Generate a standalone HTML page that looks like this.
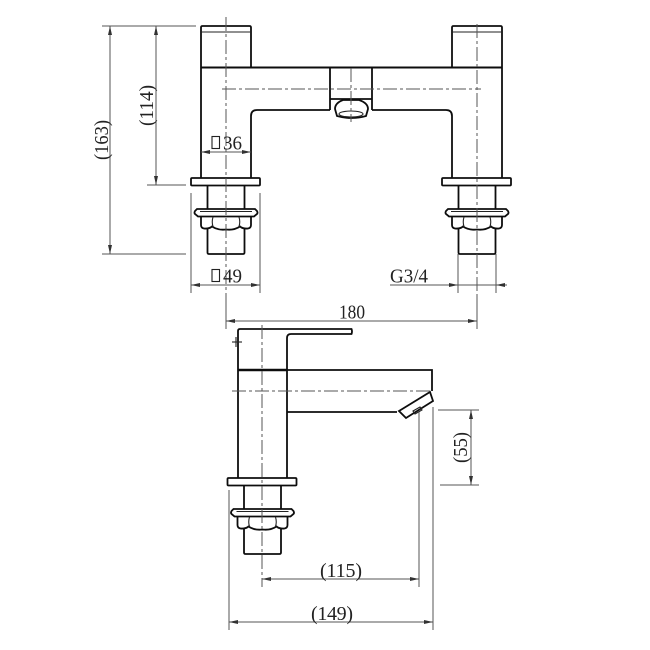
<!DOCTYPE html>
<html><head><meta charset="utf-8"><style>
html,body{margin:0;padding:0;background:#fff}
svg{display:block}
text{font-family:"Liberation Serif",serif;font-size:20px;fill:#222}
.o{fill:none;stroke:#111;stroke-width:1.8}
.t{fill:none;stroke:#222;stroke-width:1.1}
.d{fill:none;stroke:#555;stroke-width:1}
.c{fill:none;stroke:#555;stroke-width:1;stroke-dasharray:14 3 3 3}
.a{fill:#333;stroke:none}
</style></head><body>
<svg width="650" height="650" viewBox="0 0 650 650" xmlns="http://www.w3.org/2000/svg">
<defs>
<filter id="soft" x="0" y="0" width="100%" height="100%" filterUnits="userSpaceOnUse" primitiveUnits="userSpaceOnUse"><feGaussianBlur stdDeviation="0.35"/></filter>
<g id="base">
<rect class="o" x="-35" y="0" width="69" height="7.500" rx="1"/>
<path class="o" d="M-18.500 7.500V31M18.500 7.500V31"/>
<path class="o" d="M-29 31H29L31 33Q32 35 31 36L28 38.500H-28L-31 36Q-32 35-31 33Z"/>
<path class="t" d="M-26 33.500H26"/>
<path class="o" d="M-25 39V47Q-25 50-22 50.500Q-17 51-14 48.500Q-8 52.500 0 51.500Q8 52.500 14 48.500Q17 51 22 50.500Q25 50 25 47V39"/>
<path class="t" d="M-13 39Q-14.500 44-13 48.500M13 39Q14.500 44 13 48.500"/>
<path class="o" d="M-18.500 51V74.500Q-18.500 76-17 76H17Q18.500 76 18.500 74.500V51"/>
</g>
</defs>
<g filter="url(#soft)">
<!-- top view outlines -->
<g class="o">
<path d="M201 67.500V27.500Q201 26 202.500 26H249.500Q251 26 251 27.500V67.500"/>
<path d="M201 67.500H502" stroke-width="2"/>
<path d="M201 67.500V178M251 178V116Q251 110 257 110H330M372 110H446Q452 110 452 116V178"/>
<path d="M452 67.500V27.500Q452 26 453.500 26H500.500Q502 26 502 27.500V67.500M502 67.500V178"/>
<path d="M330 67.500V110M372 67.500V110M330 99H372"/>
<path d="M335 109Q335 103 343 100H359Q368 103 368 109L366 116Q352 120 337 116Z"/>
</g>
<path class="t" d="M201 32H251M452 32H502"/>
<ellipse class="t" cx="351" cy="114" rx="12" ry="3"/>
<use href="#base" x="226" y="178"/>
<use href="#base" x="477" y="178"/>
<!-- centre lines -->
<path class="c" d="M226 17V300M477 24V300M351 68V122M222 89H481"/>
<!-- top dims -->
<path class="d" d="M102 26H196M102 254H186M147 185H186M110 26V254M156 26V185"/>
<path class="d" d="M191 193V293M260 193V293M201 152H251M191 285H260"/>
<path class="d" d="M458 254V293M496 254V293M390 285H507"/>
<path class="a" d="M110 26l-2 9h4zM110 254l-2-9h4zM156 26l-2 9h4zM156 185l-2-9h4zM201 152l9-2v4zM251 152l-9-2v4zM191 285l9-2v4zM260 285l-9-2v4zM458 285l-9-2v4zM496 285l9-2v4z"/>
<rect class="t" x="212" y="136.500" width="7.500" height="12"/>
<text x="223" y="149.500" textLength="19" lengthAdjust="spacingAndGlyphs">36</text>
<rect class="t" x="212" y="269.500" width="7.500" height="12"/>
<text x="223" y="282.500" textLength="19" lengthAdjust="spacingAndGlyphs">49</text>
<text x="390" y="282.500" textLength="38" lengthAdjust="spacingAndGlyphs">G3/4</text>
<text transform="translate(108,160) rotate(-90)" textLength="40" lengthAdjust="spacingAndGlyphs">(163)</text>
<text transform="translate(153,126) rotate(-90)" textLength="41" lengthAdjust="spacingAndGlyphs">(114)</text>
<!-- side view -->
<g class="o">
<path d="M238 370V331Q238 329 240 329H351.500Q352.500 331.500 351.500 334H291Q287 334 287 338V370"/>
<path d="M238 370H287" stroke-width="2.600"/>
<path d="M238 370V478M287 370V478"/>
<path d="M287 370H432V391M287 412H397"/>
<path d="M399 411L430 392L433 401L406 418Z"/>
</g>
<path class="t" d="M413 411l7-4 2 3-7 4zM236 337v10"/>
<use href="#base" x="262.500" y="478"/>
<path class="c" d="M262 325V587M232 391H432"/>
<path class="t" d="M232 342H242"/>
<!-- side dims -->
<path class="d" d="M226 295V329M477 295V329M226 321H477"/>
<path class="d" d="M262 579H419M419 412V587M229 490V630M433 407V630M229 622H433"/>
<path class="d" d="M438 410H479M440 485H479M471 410V485"/>
<path class="a" d="M226 321l9-2v4zM477 321l-9-2v4zM262 579l9-2v4zM419 579l-9-2v4zM229 622l9-2v4zM433 622l-9-2v4zM471 410l-2 9h4zM471 485l-2-9h4z"/>
<text x="339" y="318.500" textLength="26" lengthAdjust="spacingAndGlyphs">180</text>
<text x="320" y="577" textLength="42" lengthAdjust="spacing">(115)</text>
<text x="311" y="620" textLength="42" lengthAdjust="spacing">(149)</text>
<text transform="translate(467,463) rotate(-90)" textLength="31" lengthAdjust="spacingAndGlyphs">(55)</text>
</g>
</svg>
</body></html>
